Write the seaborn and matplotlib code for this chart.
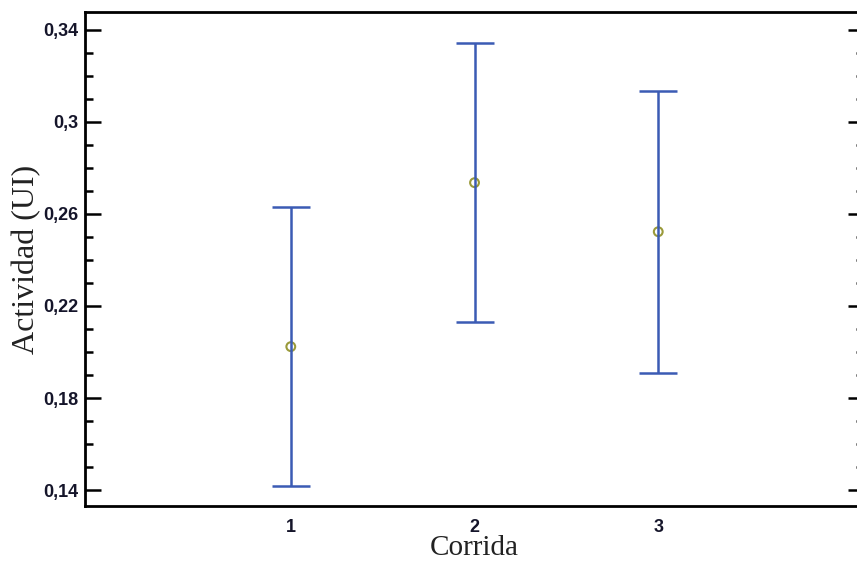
import numpy as np
import pandas as pd
import matplotlib
matplotlib.use("Agg")
import matplotlib.pyplot as plt
from matplotlib import font_manager as fm
from matplotlib.ticker import FixedLocator, MultipleLocator
import seaborn as sns

# Means and 95% interval half-widths of activity for each run
corrida = [1, 2, 3]
media = [0.2023, 0.2735, 0.2522]
semiamplitud = [0.0605, 0.0605, 0.0612]

y_ticks = [0.14, 0.18, 0.22, 0.26, 0.30, 0.34]
y_tick_labels = ["0,14", "0,18", "0,22", "0,26", "0,3", "0,34"]
x_tick_labels = ["1", "2", "3"]

df = pd.DataFrame({"Corrida": corrida, "Actividad": media, "err": semiamplitud})

sns.set_style("white")


def pick_font(candidates):
    for name in candidates:
        try:
            fm.findfont(fm.FontProperties(family=name), fallback_to_default=False)
            return name
        except Exception:
            continue
    return "DejaVu Sans"


tick_font = pick_font(["Liberation Sans Narrow", "Liberation Sans", "DejaVu Sans"])
label_font = pick_font(["Liberation Serif", "DejaVu Serif"])

fig = plt.figure(figsize=(8.57, 5.61), dpi=100)
ax = fig.add_axes([0.0992, 0.098, 0.909, 0.8806])

blue = "#3b5bb4"
sns.scatterplot(data=df, x="Corrida", y="Actividad", ax=ax, marker="o", s=40,
                facecolor="none", edgecolor="#9a9a3a", linewidth=1.5, zorder=2,
                legend=False)
ax.errorbar(df["Corrida"], df["Actividad"], yerr=df["err"], fmt="none",
            ecolor=blue, elinewidth=1.8, capsize=13.5, capthick=1.8, zorder=3)

ax.set_xlim(-0.12, 4.12)
ax.set_ylim(0.1331, 0.3476)

ax.xaxis.set_major_locator(FixedLocator(corrida))
ax.set_xticklabels(x_tick_labels)
ax.yaxis.set_major_locator(FixedLocator(y_ticks))
ax.set_yticklabels(y_tick_labels)
ax.yaxis.set_minor_locator(MultipleLocator(0.01))

for lab in ax.get_xticklabels() + ax.get_yticklabels():
    lab.set_fontfamily(tick_font)
    lab.set_fontweight("bold")
    lab.set_fontsize(13)
    lab.set_color("#15152a")

ax.tick_params(axis="y", which="major", direction="in", length=11.5, width=1.8,
               color="black", left=True, right=True, pad=5)
ax.tick_params(axis="y", which="minor", direction="in", length=5.8, width=1.8,
               color="black", left=True, right=True)
ax.tick_params(axis="x", which="both", length=0, pad=9)

for side in ["left", "right", "top", "bottom"]:
    ax.spines[side].set_visible(True)
    ax.spines[side].set_color("black")
    ax.spines[side].set_linewidth(2.0)

ax.set_xlabel("Corrida", fontfamily=label_font, fontsize=21, color="#222222")
ax.set_ylabel("Actividad (UI)", fontfamily=label_font, fontsize=23, color="#222222")
ax.xaxis.set_label_coords(0.5, -0.058)
ax.yaxis.set_label_coords(-0.0745, 0.5)
ax.yaxis.label.set_verticalalignment("center")

fig.savefig("out.png", dpi=100)
